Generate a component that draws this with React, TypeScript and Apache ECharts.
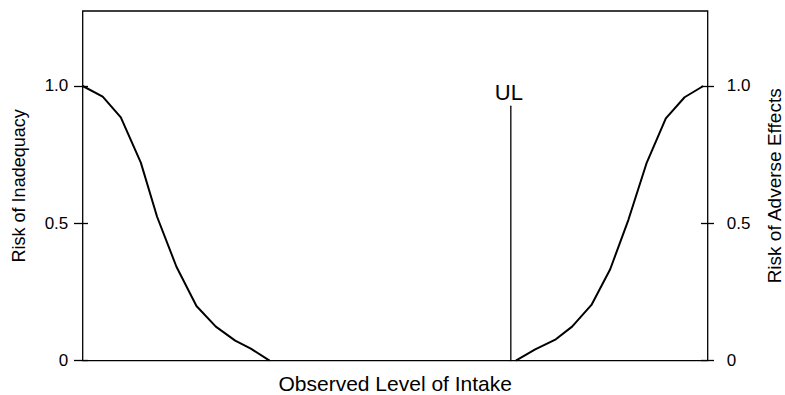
import React, { useEffect, useRef } from "react";
import * as echarts from "echarts";

const leftX = [0, 3.2, 6.1, 9.3, 11.9, 15.0, 18.2, 21.3, 24.4, 26.9, 29.9];
const leftY = [1.0, 0.961, 0.886, 0.721, 0.524, 0.342, 0.199, 0.124, 0.073, 0.044, 0];
const rightX = [69.3, 72.4, 75.7, 78.3, 81.4, 84.4, 87.3, 90.2, 93.3, 96.3, 99.3];
const rightY = [0, 0.041, 0.078, 0.124, 0.203, 0.333, 0.512, 0.718, 0.882, 0.959, 1.0];
const ulX = 68.5;
const ulTop = 0.927;
const yTicks = [0, 0.5, 1.0];
const xName = "Observed Level of Intake";
const yLeftName = "Risk of Inadequacy";
const yRightName = "Risk of Adverse Effects";
const ulLabel = "UL";

const FONT = "'Liberation Sans', Arial, Helvetica, sans-serif";

export default function App() {
  const ref = useRef<HTMLDivElement>(null);
  useEffect(() => {
    if (!ref.current) return;
    const chart = echarts.init(ref.current, null, { renderer: "svg" });
    const fmt = (v: number) => (v === 0 ? "0" : v.toFixed(1));
    const yBase = {
      type: "value" as const,
      min: 0,
      max: 1.273,
      interval: 0.5,
      splitLine: { show: false },
      axisLine: { show: false },
    };
    chart.setOption({
      animation: false,
      backgroundColor: "#fff",
      grid: {
        left: 82.7,
        right: 77.3,
        top: 11,
        bottom: 34.3,
        show: true,
        borderColor: "#000",
        borderWidth: 1.3,
        containLabel: false,
        outerBoundsMode: "none",
      },
      xAxis: {
        type: "value",
        min: 0,
        max: 100,
        axisLine: { show: false },
        axisTick: { show: false },
        axisLabel: { show: false },
        splitLine: { show: false },
        name: xName,
        nameLocation: "middle",
        nameGap: 12,
        nameTextStyle: { fontFamily: FONT, fontSize: 21, color: "#000" },
      },
      yAxis: [
        {
          ...yBase,
          position: "left",
          axisTick: { show: true, length: 8.7, lineStyle: { color: "#000", width: 1.3 }, customValues: yTicks },
          axisLabel: {
            show: true,
            margin: 14.4,
            fontFamily: FONT,
            fontSize: 17,
            color: "#000",
            formatter: fmt,
            customValues: yTicks,
          },
          name: yLeftName,
          nameLocation: "middle",
          nameGap: 55,
          nameTextStyle: { fontFamily: FONT, fontSize: 18, color: "#000" },
        },
        {
          ...yBase,
          position: "left",
          axisTick: { show: true, inside: true, length: 5.3, lineStyle: { color: "#000", width: 1.3 }, customValues: yTicks },
          axisLabel: { show: false },
        },
        {
          ...yBase,
          position: "right",
          axisTick: { show: true, length: 6.3, lineStyle: { color: "#000", width: 1.3 }, customValues: yTicks },
          axisLabel: {
            show: true,
            margin: 19,
            fontFamily: FONT,
            fontSize: 17,
            color: "#000",
            formatter: fmt,
            customValues: yTicks,
          },
          name: yRightName,
          nameLocation: "middle",
          nameGap: 57,
          nameTextStyle: { fontFamily: FONT, fontSize: 19, color: "#000" },
        },
        {
          ...yBase,
          position: "right",
          axisTick: { show: true, inside: true, length: 6.7, lineStyle: { color: "#000", width: 1.3 }, customValues: yTicks },
          axisLabel: { show: false },
        },
      ],
      series: [
        {
          type: "line",
          yAxisIndex: 0,
          data: leftX.map((x, i) => [x, leftY[i]]),
          showSymbol: false,
          symbol: "none",
          lineStyle: { color: "#000", width: 2 },
        },
        {
          type: "line",
          yAxisIndex: 0,
          data: rightX.map((x, i) => [x, rightY[i]]),
          showSymbol: false,
          symbol: "none",
          lineStyle: { color: "#000", width: 2 },
        },
        {
          type: "line",
          yAxisIndex: 0,
          data: [
            { value: [ulX, 0] },
            {
              value: [ulX, ulTop],
              label: {
                show: true,
                position: "top",
                distance: 2,
                offset: [-2, 0],
                formatter: ulLabel,
                fontFamily: FONT,
                fontSize: 22,
                color: "#000",
              },
            },
          ],
          symbol: "circle",
          symbolSize: 1,
          showSymbol: true,
          itemStyle: { color: "#000" },
          lineStyle: { color: "#000", width: 1.3 },
        },
      ],
    });
    return () => chart.dispose();
  }, []);
  return (
    <div
      ref={ref}
      style={{ position: "fixed", left: 0, top: 0, width: 785, height: 395, background: "#fff" }}
    />
  );
}
